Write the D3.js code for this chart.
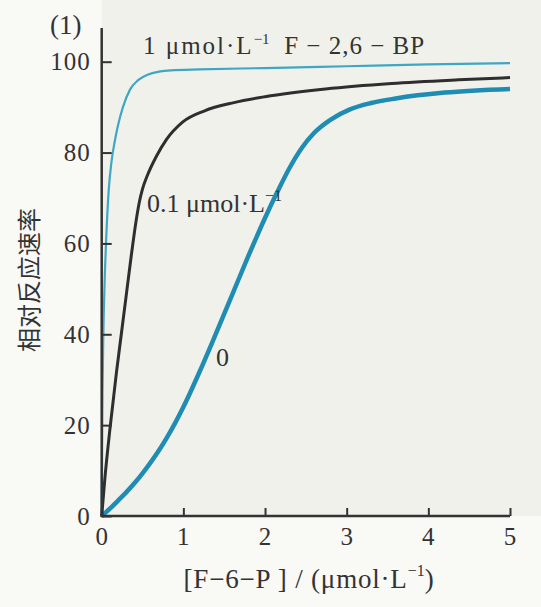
<!DOCTYPE html>
<html>
<head>
<meta charset="utf-8">
<script src="https://cdn.jsdelivr.net/npm/d3@7"></script>
<style>
html,body{margin:0;padding:0;background:#f9f9f6;}
svg{display:block;}
text{font-family:"Liberation Serif","DejaVu Serif",serif;fill:#333;}
</style>
</head>
<body>
<svg id="chart" width="541" height="607"></svg>
<script>
// ---- data ----
const xTicks = [0, 1, 2, 3, 4, 5];
const yTicks = [0, 20, 40, 60, 80, 100];

// 1 µmol/L F-2,6-BP
const s1X = [0, 0.005, 0.01, 0.02, 0.035, 0.055, 0.085, 0.12, 0.16, 0.2, 0.26, 0.345, 0.45, 0.57, 0.7, 0.85, 1.2, 2, 3, 4, 5];
const s1Y = [0, 15, 27, 40, 51, 61, 71.5, 78, 82.5, 86, 90, 93.8, 96, 97.2, 97.8, 98.1, 98.3, 98.6, 99, 99.4, 99.7];

// 0.1 µmol/L
const s2X = [0, 0.04, 0.1, 0.18, 0.24, 0.3, 0.36, 0.42, 0.46, 0.5, 0.56, 0.67, 0.79, 0.99, 1.26, 1.62, 2.0, 2.74, 3.55, 4.37, 5];
const s2Y = [0, 8.5, 19, 31.5, 40, 48.5, 57, 64.8, 69, 72, 75, 79.2, 82.8, 86.7, 89.2, 91, 92.3, 94, 95.2, 96, 96.5];

// 0 (no F-2,6-BP)
const s3X = [0, 0.1, 0.2, 0.3, 0.4, 0.5, 0.6, 0.7, 0.8, 0.9, 1.0, 1.1, 1.2, 1.4, 1.6, 1.8, 2.0, 2.15, 2.3, 2.45, 2.6, 2.8, 3.04, 3.3, 3.6, 4.2, 5];
const s3Y = [0, 1.6, 3.4, 5.2, 7.2, 9.4, 11.8, 14.4, 17.3, 20.5, 24, 27.8, 31.8, 40.2, 48.8, 57.4, 65.6, 71.3, 76.6, 81, 84.3, 87.2, 89.5, 90.9, 91.9, 93.2, 94];

// ---- layout ----
const svg = d3.select("#chart");
const x = d3.scaleLinear().domain([0, 5]).range([101.7, 510]);
const y = d3.scaleLinear().domain([0, 100]).range([516, 61.7]);

// plot area background
svg.append("rect").attr("x", x(0)).attr("y", 0)
  .attr("width", 541 - x(0)).attr("height", y(0))
  .attr("fill", "#f0f1eb");

const line = d3.line().x(d => x(d[0])).y(d => y(d[1])).curve(d3.curveMonotoneX);
const zip = (a, b) => a.map((v, i) => [v, b[i]]);

svg.append("path").datum(zip(s3X, s3Y)).attr("d", line)
  .attr("fill", "none").attr("stroke", "#1f8db3").attr("stroke-width", 4.5);
svg.append("path").datum(zip(s2X, s2Y)).attr("d", line)
  .attr("fill", "none").attr("stroke", "#2e2e2e").attr("stroke-width", 3);
svg.append("path").datum(zip(s1X, s1Y)).attr("d", line)
  .attr("fill", "none").attr("stroke", "#3fa6c4").attr("stroke-width", 2.2);

// axes
const fs = 25;
const gx = svg.append("g").attr("transform", `translate(0,${y(0)})`)
  .call(d3.axisBottom(x).tickValues(xTicks).tickFormat(d3.format("d")).tickSize(-8).tickPadding(11));
const gy = svg.append("g").attr("transform", `translate(${x(0)},0)`)
  .call(d3.axisLeft(y).tickValues(yTicks).tickFormat(d3.format("d")).tickSize(-10).tickPadding(11));
[gx, gy].forEach(g => {
  g.select(".domain").remove();
  g.selectAll(".tick line").attr("stroke", "#333").attr("stroke-width", 2);
  g.selectAll(".tick text").attr("font-size", fs).attr("fill", "#333")
    .attr("letter-spacing", 1)
    .style("font-family", '"Liberation Serif", serif');
});
svg.append("line").attr("x1", x(0)).attr("x2", x(0)).attr("y1", y(0) + 1).attr("y2", 28)
  .attr("stroke", "#333").attr("stroke-width", 2.5);
svg.append("line").attr("x1", x(0) - 1).attr("x2", x(5)).attr("y1", y(0)).attr("y2", y(0))
  .attr("stroke", "#333").attr("stroke-width", 2.5);

// texts
svg.append("text").attr("x", 50).attr("y", 34).attr("font-size", 27).text("(1)");

const t1 = svg.append("text").attr("x", 143).attr("y", 54).attr("font-size", 25).attr("letter-spacing", 2);
t1.append("tspan").text("1 μmol·L");
t1.append("tspan").attr("dy", -10).attr("font-size", 15).attr("letter-spacing", 0).text("−1");
t1.append("tspan").attr("dy", 10).attr("letter-spacing", 1).text("\u00a0 F − 2,6 − BP");

const t2 = svg.append("text").attr("x", 147).attr("y", 212).attr("font-size", 26);
t2.append("tspan").text("0.1 μmol·L");
t2.append("tspan").attr("dy", -11).attr("font-size", 16).text("−1");

svg.append("text").attr("x", 216).attr("y", 366).attr("font-size", 26).text("0");

const xl = svg.append("text").attr("x", 309).attr("y", 588).attr("font-size", 27)
  .attr("letter-spacing", 0.8).attr("text-anchor", "middle");
xl.append("tspan").text("[F−6−P ] / (μmol·L");
xl.append("tspan").attr("dy", -12).attr("font-size", 16).attr("letter-spacing", 0).text("−1");
xl.append("tspan").attr("dy", 12).text(")");

svg.append("text").attr("transform", "translate(38,280) rotate(-90)")
  .attr("text-anchor", "middle").attr("font-size", 24)
  .style("font-family", '"Noto Sans CJK SC", sans-serif').attr("fill", "#444")
  .text("相对反应速率");
</script>
</body>
</html>
